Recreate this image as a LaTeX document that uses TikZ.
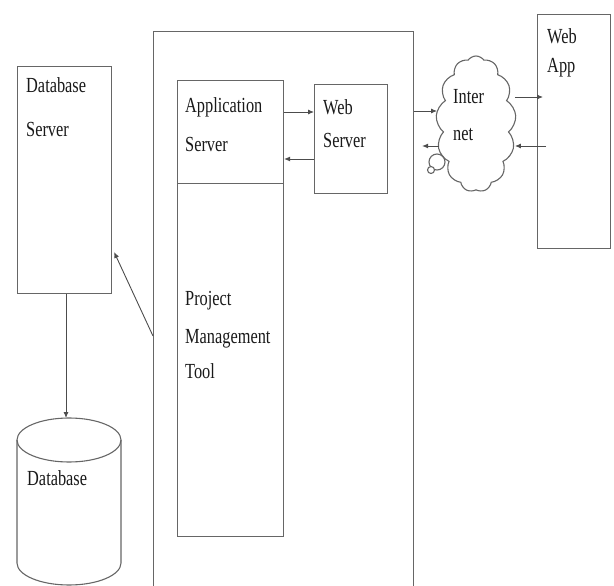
\documentclass[tikz,border=0pt]{standalone}
\usepackage{fontspec}
\setmainfont[FakeStretch=0.76]{Liberation Serif}
\usetikzlibrary{shapes.symbols,arrows.meta}
\tikzset{
  x=1pt, y=-1pt,
  ln/.style={draw=black!60, line width=1.1pt},
  box/.style={ln, rectangle, inner sep=0pt, anchor=north west},
  lbl/.style={anchor=base west, inner sep=0pt, text=black!90,
    font=\fontsize{21.5}{24}\selectfont},
  arr/.style={draw=black!70, line width=0.9pt, -{Latex[length=6pt,width=5pt]}},
}
\begin{document}
\begin{tikzpicture}
\useasboundingbox (0,0) rectangle (614,586);

% host machine frame (runs past the lower page edge)
\node[box, minimum width=260pt, minimum height=565pt] (host) at (153,31) {};

% boxes inside the host
\node[box, minimum width=106pt, minimum height=103pt] (app) at (177,80) {};
\node[box, minimum width=106pt, minimum height=353pt] (pmt) at (177,183) {};
\node[box, minimum width=73pt, minimum height=109pt] (web) at (314,84) {};

% database server and web app
\node[box, minimum width=94pt, minimum height=227pt] (dbs) at (17,66) {};
\node[box, minimum width=73pt, minimum height=234pt] (wapp) at (537,14) {};

% internet cloud with its little tail bubbles
\node[ln, circle, fill=white, minimum size=16pt, inner sep=0pt] (bub1) at (437,162) {};
\node[ln, cloud, cloud puffs=13, cloud puff arc=110, aspect=0.6,
      minimum width=80pt, minimum height=136pt, inner sep=0pt] (net) at (476,124) {};
\node[ln, circle, fill=white, minimum size=7pt, inner sep=0pt] (bub2) at (431,170) {};

% database cylinder
\coordinate (dbtop) at (69,418);
\draw[ln, fill=white] (17,440) -- (17,563) arc[start angle=180, end angle=0, x radius=52, y radius=22] -- (121,440);
\draw[ln] (69,440) ellipse [x radius=52, y radius=22];

% labels
\node[lbl] (t1) at (26,93) {Database};
\node[lbl] (t2) at (26,136) {Server};
\node[lbl] (t3) at (185,113) {Application};
\node[lbl] (t4) at (185,151) {Server};
\node[lbl] (t5) at (323,114) {Web};
\node[lbl] (t6) at (323,148) {Server};
\node[lbl] (t7) at (453,104) {Inter};
\node[lbl] (t8) at (453,140) {net};
\node[lbl] (t9) at (547,44) {Web};
\node[lbl] (t10) at (547,73) {App};
\node[lbl] (t11) at (185,305) {Project};
\node[lbl] (t12) at (185,343) {Management};
\node[lbl] (t13) at (185,378) {Tool};
\node[lbl] (t14) at (27,485) {Database};

% connectors
\draw[arr] (app.east |- 0,112) -- (web.west |- 0,112);
\draw[arr] (web.west |- 0,159) -- (app.east |- 0,159);
\draw[arr] (host.east |- 0,111) -- (net.west |- 0,111);
\draw[arr] ([xshift=25pt]host.east |- 0,146) -- ([xshift=8pt]host.east |- 0,146);
\draw[arr] (net.east |- 0,97) -- ([xshift=6pt]wapp.west |- 0,97);
\draw[arr] ([xshift=9pt]wapp.west |- 0,146) -- (net.east |- 0,146);
\draw[arr] (host.west |- 0,336) -- ([xshift=2pt]dbs.east |- 0,252);
\draw[arr] (dbs.south -| 0,66) ++(66,0) coordinate (dbsdrop) -- (dbsdrop |- dbtop);
\end{tikzpicture}
\end{document}
